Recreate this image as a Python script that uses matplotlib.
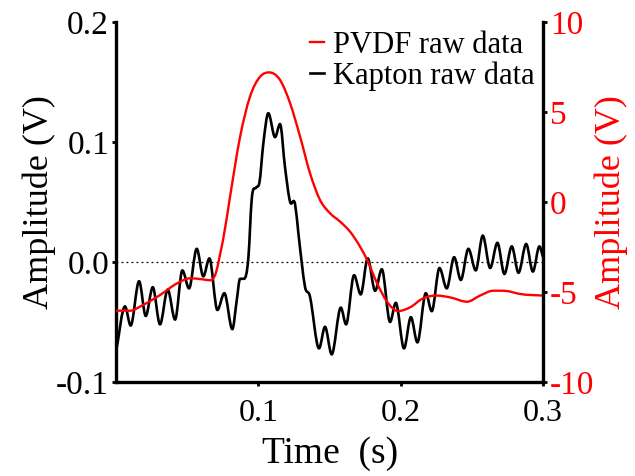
import numpy as np
import matplotlib.pyplot as plt
from matplotlib.path import Path
from matplotlib.patches import PathPatch
from matplotlib.lines import Line2D

plt.rcParams['font.family'] = ['Liberation Serif', 'DejaVu Serif']

# Kapton raw data (left axis, V)
t_kapton = [0.0, 0.0063, 0.0103, 0.0162, 0.0209, 0.0258, 0.0309, 0.0363, 0.0415,
            0.0466, 0.0513, 0.0567, 0.0613, 0.0656, 0.0712, 0.0761, 0.0817, 0.0848,
            0.0871, 0.0899, 0.0930, 0.0953, 0.0984, 0.1007, 0.1035, 0.1070, 0.1117,
            0.1152, 0.1187, 0.1223, 0.1258, 0.1281, 0.1305, 0.1328, 0.1358, 0.1426,
            0.1468, 0.1515, 0.1579, 0.1616, 0.1672, 0.1719, 0.1768, 0.1820, 0.1867,
            0.1925, 0.1965, 0.2023, 0.2071, 0.2117, 0.2176, 0.2218, 0.2272, 0.2323,
            0.2375, 0.2422, 0.2475, 0.2527, 0.2576, 0.2628, 0.2679, 0.2728, 0.2780,
            0.2827, 0.2881, 0.2928, 0.2974, 0.3]
v_kapton = [-0.075, -0.037, -0.053, -0.016, -0.045, -0.021, -0.052, -0.023, -0.048,
            -0.007, -0.022, 0.011, -0.012, 0.003, -0.040, -0.026, -0.056, -0.032,
            -0.014, -0.014, 0.004, 0.052, 0.062, 0.066, 0.099, 0.124, 0.104,
            0.115, 0.079, 0.050, 0.048, 0.024, -0.001, -0.021, -0.027, -0.072,
            -0.054, -0.077, -0.038, -0.052, -0.011, -0.027, 0.003, -0.024, -0.006,
            -0.050, -0.034, -0.072, -0.046, -0.067, -0.026, -0.041, -0.005, -0.022,
            0.004, -0.015, 0.011, -0.007, 0.022, -0.005, 0.016, -0.010, 0.013,
            -0.009, 0.015, -0.008, 0.013, 0.004]

# PVDF raw data (right axis, V)
t_pvdf = [0.0, 0.0098, 0.0190, 0.0309, 0.0429, 0.0520, 0.0611, 0.0660, 0.0703,
          0.0731, 0.0752, 0.0801, 0.0871, 0.0941, 0.1012, 0.1075, 0.1152, 0.1223,
          0.1293, 0.1363, 0.1433, 0.1504, 0.1574, 0.1644, 0.1714, 0.1764, 0.1834,
          0.1904, 0.1981, 0.2066, 0.2157, 0.2255, 0.2347, 0.2466, 0.2557, 0.2649,
          0.2747, 0.2838, 0.3]
v_pvdf = [-6.04, -6.04, -5.72, -5.17, -4.52, -4.24, -4.3, -4.35, -3.9,
          -2.9, -2.1, 0.3, 3.6, 5.85, 6.96, 7.2, 6.78, 5.48,
          3.63, 1.59, 0.11, -0.63, -1.09, -1.65, -2.48, -3.22, -4.52,
          -5.54, -6.06, -5.85, -5.35, -5.2, -5.3, -5.54, -5.2, -4.93,
          -4.95, -5.11, -5.2]

x_ticks = [0.1, 0.2, 0.3]
y_ticks = [-0.1, 0.0, 0.1, 0.2]
y2_ticks = [-10, -5, 0, 5, 10]


def smooth_path(x, y):
    # bezier path through the read points (flat tangent at local extrema)
    x = np.asarray(x, float)
    y = np.asarray(y, float)
    h = np.diff(x)
    d = np.diff(y) / h
    m = np.zeros_like(y)
    m[0], m[-1] = d[0], d[-1]
    for i in range(1, len(y) - 1):
        if d[i - 1] * d[i] > 0:
            m[i] = (d[i - 1] * h[i] + d[i] * h[i - 1]) / (h[i - 1] + h[i])
    verts = [(x[0], y[0])]
    codes = [Path.MOVETO]
    for i in range(len(h)):
        verts += [(x[i] + h[i] / 3, y[i] + m[i] * h[i] / 3),
                  (x[i + 1] - h[i] / 3, y[i + 1] - m[i + 1] * h[i] / 3),
                  (x[i + 1], y[i + 1])]
        codes += [Path.CURVE4] * 3
    return Path(verts, codes)


fig = plt.figure(figsize=(6.35, 4.76), dpi=100)
ax = fig.add_axes([0.1827, 0.1975, 0.6726, 0.7563])
ax2 = ax.twinx()

ax.axhline(0, color='black', lw=0.9, ls=(0, (1.5, 2.5)))
ax.add_patch(PathPatch(smooth_path(t_kapton, v_kapton), fill=False,
                       edgecolor='black', lw=1.9, joinstyle='round'))
ax2.add_patch(PathPatch(smooth_path(t_pvdf, v_pvdf), fill=False,
                        edgecolor='red', lw=1.7, joinstyle='round'))

ax.set_xlim(0, 0.3)
ax.set_ylim(-0.1, 0.2)
ax2.set_ylim(-10, 10)
ax.set_xticks(x_ticks)
ax.set_xticklabels(['0.1', '0.2', '0.3'])
ax.set_yticks(y_ticks)
ax.set_yticklabels(['-0.1', '0.0', '0.1', '0.2'])
ax2.set_yticks(y2_ticks)
ax2.set_yticklabels([str(v) for v in y2_ticks])

for a in (ax, ax2):
    a.spines['top'].set_visible(False)
    for s in ('left', 'bottom', 'right'):
        a.spines[s].set_linewidth(2.4)
        a.spines[s].set_color('black')
ax.spines['right'].set_visible(False)
ax2.spines['left'].set_visible(False)
ax2.spines['bottom'].set_visible(False)

ax.tick_params(axis='both', direction='out', length=3, width=2, labelsize=24, pad=2)
ax.tick_params(axis='x', labelsize=23, pad=9)
ax2.tick_params(axis='y', direction='out', length=3, width=2, labelsize=24,
                labelcolor='red', pad=2)

ax.set_xlabel('Time  (s)', fontsize=27, labelpad=6)
ax.set_ylabel('Amplitude (V)', fontsize=26, labelpad=0)
ax2.set_ylabel('Amplitude (V)', fontsize=26, color='red', rotation=90, labelpad=0)

handles = [Line2D([], [], color='red', lw=1.7), Line2D([], [], color='black', lw=1.9)]
ax2.legend(handles, ['PVDF raw data', 'Kapton raw data'], loc='upper right',
           bbox_to_anchor=(1.008, 1.01), frameon=False, fontsize=22,
           handlelength=0.45, handletextpad=0.3, labelspacing=0.05, borderaxespad=0)

fig.savefig('out.png', dpi=100)
